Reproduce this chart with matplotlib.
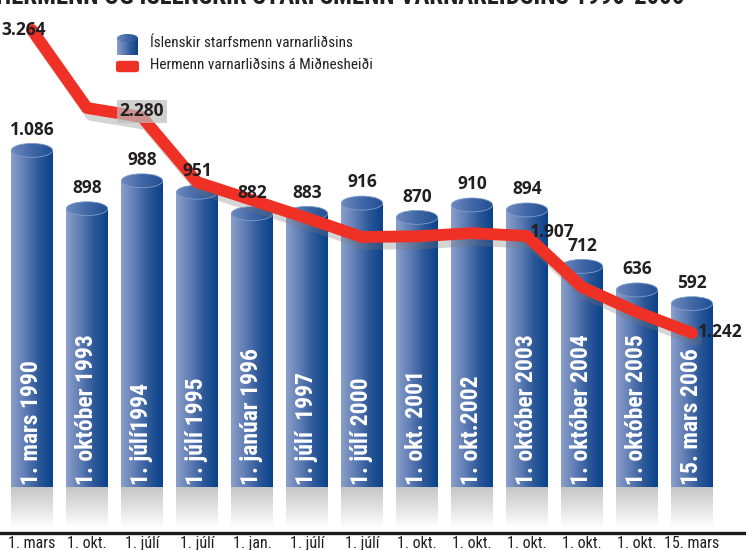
import numpy as np
import matplotlib
matplotlib.use('Agg')
import matplotlib.pyplot as plt
import matplotlib.patheffects as pe
from matplotlib import font_manager
from matplotlib.colors import LinearSegmentedColormap
from matplotlib.patches import Ellipse, FancyBboxPatch

# data
dates_long = ['1. mars 1990', '1. október 1993', '1. júlí1994', '1. júlí 1995',
              '1. janúar 1996', '1. júlí  1997', '1. júlí 2000', '1. okt. 2001',
              '1. okt.2002', '1. október 2003', '1. október 2004',
              '1. október 2005', '15. mars 2006']
dates_short = ['1. mars', '1. okt.', '1. júlí', '1. júlí', '1. jan.', '1. júlí',
               '1. júlí', '1. okt.', '1. okt.', '1. okt.', '1. okt.', '1. okt.',
               '15. mars']
starfsmenn = [1086, 898, 988, 951, 882, 883, 916, 870, 910, 894, 712, 636, 592]
hermenn = [3264, 2382, 2280, 2076, 2020, 1963, 1900, 1905, 1916, 1907, 1557, 1386, 1242]
hermenn_labels = {0: '3.264', 2: '2.280', 9: '1.907', 12: '1.242'}

title = 'HERMENN OG ÍSLENSKIR STARFSMENN VARNARLIÐSINS 1990-2006'
legend_labels = ['Íslenskir starfsmenn varnarliðsins',
                 'Hermenn varnarliðsins á Miðnesheiði']

# the red line in the original sits on an uneven scale, so map it piecewise
scale_vals = [-129, 1242, 1907, 2280, 3264, 3603]
scale_pos = [0, 200, 297, 416, 503, 533]

# pick a condensed face if one is installed
names = {f.name for f in font_manager.fontManager.ttflist}
cands = ['Liberation Sans Narrow', 'Roboto Condensed', 'Open Sans Condensed',
         'DejaVu Sans Condensed']
narrow = next((c for c in cands if c in names), None)
if narrow:
    fs_leg, fs_vert, fs_tick = 11, 17, 11.5
else:
    narrow = 'Open Sans'
    fs_leg, fs_vert, fs_tick = 10, 14.5, 9.5
bold_font = 'Open Sans'

RED = '#ee3124'
TXT = '#231f20'
bar_cmap = LinearSegmentedColormap.from_list('cyl', ['#8ca0c9', '#5f7db5', '#2d5898', '#08428a'])
top_cmap = LinearSegmentedColormap.from_list('top', ['#6f8abf', '#4168a6', '#1f4f93'])
shade_cmap = LinearSegmentedColormap.from_list('shade', ['#c6c6c6', '#ffffff'])
grad_h = np.linspace(0, 1, 256).reshape(1, -1)
grad_v = np.linspace(0, 1, 256).reshape(-1, 1)

fig = plt.figure(figsize=(7.46, 5.5), dpi=100)
ax = fig.add_axes([0, 17 / 550, 1, 533 / 550])

x = np.arange(len(starfsmenn))
w = 0.75
cap_h = 45  # height of the top ellipse in bar units

bars = ax.bar(x, starfsmenn, width=w, facecolor='none', edgecolor='none')
for i, b in enumerate(bars):
    x0, x1 = b.get_x(), b.get_x() + b.get_width()
    v = b.get_height()
    im = ax.imshow(grad_h, extent=(x0, x1, 0, v), aspect='auto', cmap=bar_cmap, zorder=1)
    im.set_clip_path(b)
    # grey reflection under the bar
    ax.imshow(grad_v, extent=(x0, x1, -132, 0), aspect='auto', cmap=shade_cmap, zorder=1)
    top = Ellipse((x[i], v), w, cap_h, facecolor='none', edgecolor='#7f9bcb', lw=0.6, zorder=2)
    ax.add_patch(top)
    imt = ax.imshow(grad_h, extent=(x0, x1, v - cap_h / 2, v + cap_h / 2), aspect='auto',
                    cmap=top_cmap, zorder=1.5)
    imt.set_clip_path(top)
    ax.text(x[i], 8, dates_long[i], rotation=90, ha='center', va='bottom', color='white',
            fontsize=fs_vert, fontweight='bold', family=narrow, zorder=3)

ax.set_xlim(-32 / 55, 714 / 55)
ax.set_ylim(-148, 1571)
ax.set_xticks(x)
ax.set_xticklabels(dates_short, family=narrow, fontsize=fs_tick, color=TXT)
ax.tick_params(axis='x', length=0, pad=2)
ax.set_yticks([])
for s in ['top', 'left', 'right']:
    ax.spines[s].set_visible(False)
ax.spines['bottom'].set_linewidth(2.4)
ax.spines['bottom'].set_color('#1a1a1a')

# line on its own hidden axis
ax2 = ax.twinx()
ax2.set_yscale('function', functions=(lambda v: np.interp(v, scale_vals, scale_pos),
                                      lambda p: np.interp(p, scale_pos, scale_vals)))
ax2.set_ylim(scale_vals[0], scale_vals[-1])
ax2.set_xlim(ax.get_xlim())
ax2.axis('off')
ax2.plot(x, hermenn, color=RED, lw=8.5, solid_joinstyle='round', solid_capstyle='round',
         path_effects=[pe.SimpleLineShadow(offset=(3, -5), shadow_color='#777777', alpha=0.3),
                       pe.Normal()], zorder=2)

# value labels above the cylinders (kept above the red line)
for i, v in enumerate(starfsmenn):
    ax2.annotate(f'{v:,}'.replace(',', '.'), xy=(x[i], v), xycoords=ax.transData,
                 xytext=(0, 8.5), textcoords='offset points', ha='center', va='bottom',
                 fontsize=12.5, fontweight='bold', family=bold_font, color=TXT, zorder=5)

offsets = {0: ((-6, 0), 'center'), 2: ((0, 4), 'center'),
           9: ((2, 3), 'left'), 12: ((4, 1), 'left')}
for i, lab in hermenn_labels.items():
    off, ha = offsets[i]
    box = None
    if i == 2:
        box = dict(boxstyle='square,pad=0.15', facecolor='#bdbdbd', edgecolor='none', alpha=0.7)
    ax2.annotate(lab, xy=(x[i], hermenn[i]), xytext=off, textcoords='offset points',
                 ha=ha, va='center', fontsize=12.5, fontweight='bold', family=bold_font,
                 color=TXT, bbox=box, zorder=6)

# legend, drawn by hand to look like the original
lax = fig.add_axes([117 / 746, 1 - 55 / 550, 21 / 746, 21 / 550])
lax.axis('off')
body = plt.Rectangle((0, 0), 1, 0.8, facecolor='none', edgecolor='none')
lax.add_patch(body)
ib = lax.imshow(grad_h, extent=(0, 1, 0, 0.8), aspect='auto', cmap=bar_cmap)
ib.set_clip_path(body)
lcap = Ellipse((0.5, 0.8), 1, 0.4, facecolor='none', edgecolor='none')
lax.add_patch(lcap)
ic = lax.imshow(grad_h, extent=(0, 1, 0.6, 1.0), aspect='auto', cmap=top_cmap)
ic.set_clip_path(lcap)
lax.set_xlim(0, 1)
lax.set_ylim(0, 1)

fig.add_artist(FancyBboxPatch((119 / 746, 1 - 70 / 550), 17 / 746, 7 / 550,
                              boxstyle='round,pad=0.004', facecolor=RED, edgecolor='none',
                              transform=fig.transFigure))
fig.text(150 / 746, 1 - 43 / 550, legend_labels[0], family=narrow, fontsize=fs_leg,
         color=TXT, va='center', ha='left')
fig.text(150 / 746, 1 - 65 / 550, legend_labels[1], family=narrow, fontsize=fs_leg,
         color=TXT, va='center', ha='left')

# title, cut off at the top edge as in the source image
t = fig.text(-4 / 746, 1 - 4 / 550, title, family=narrow, fontsize=16, fontweight='bold',
             color=TXT, va='baseline', ha='left')
fig.canvas.draw()
tw = t.get_window_extent().width
t.set_fontsize(16 * 690 / tw)

fig.savefig('out.png', dpi=100)
